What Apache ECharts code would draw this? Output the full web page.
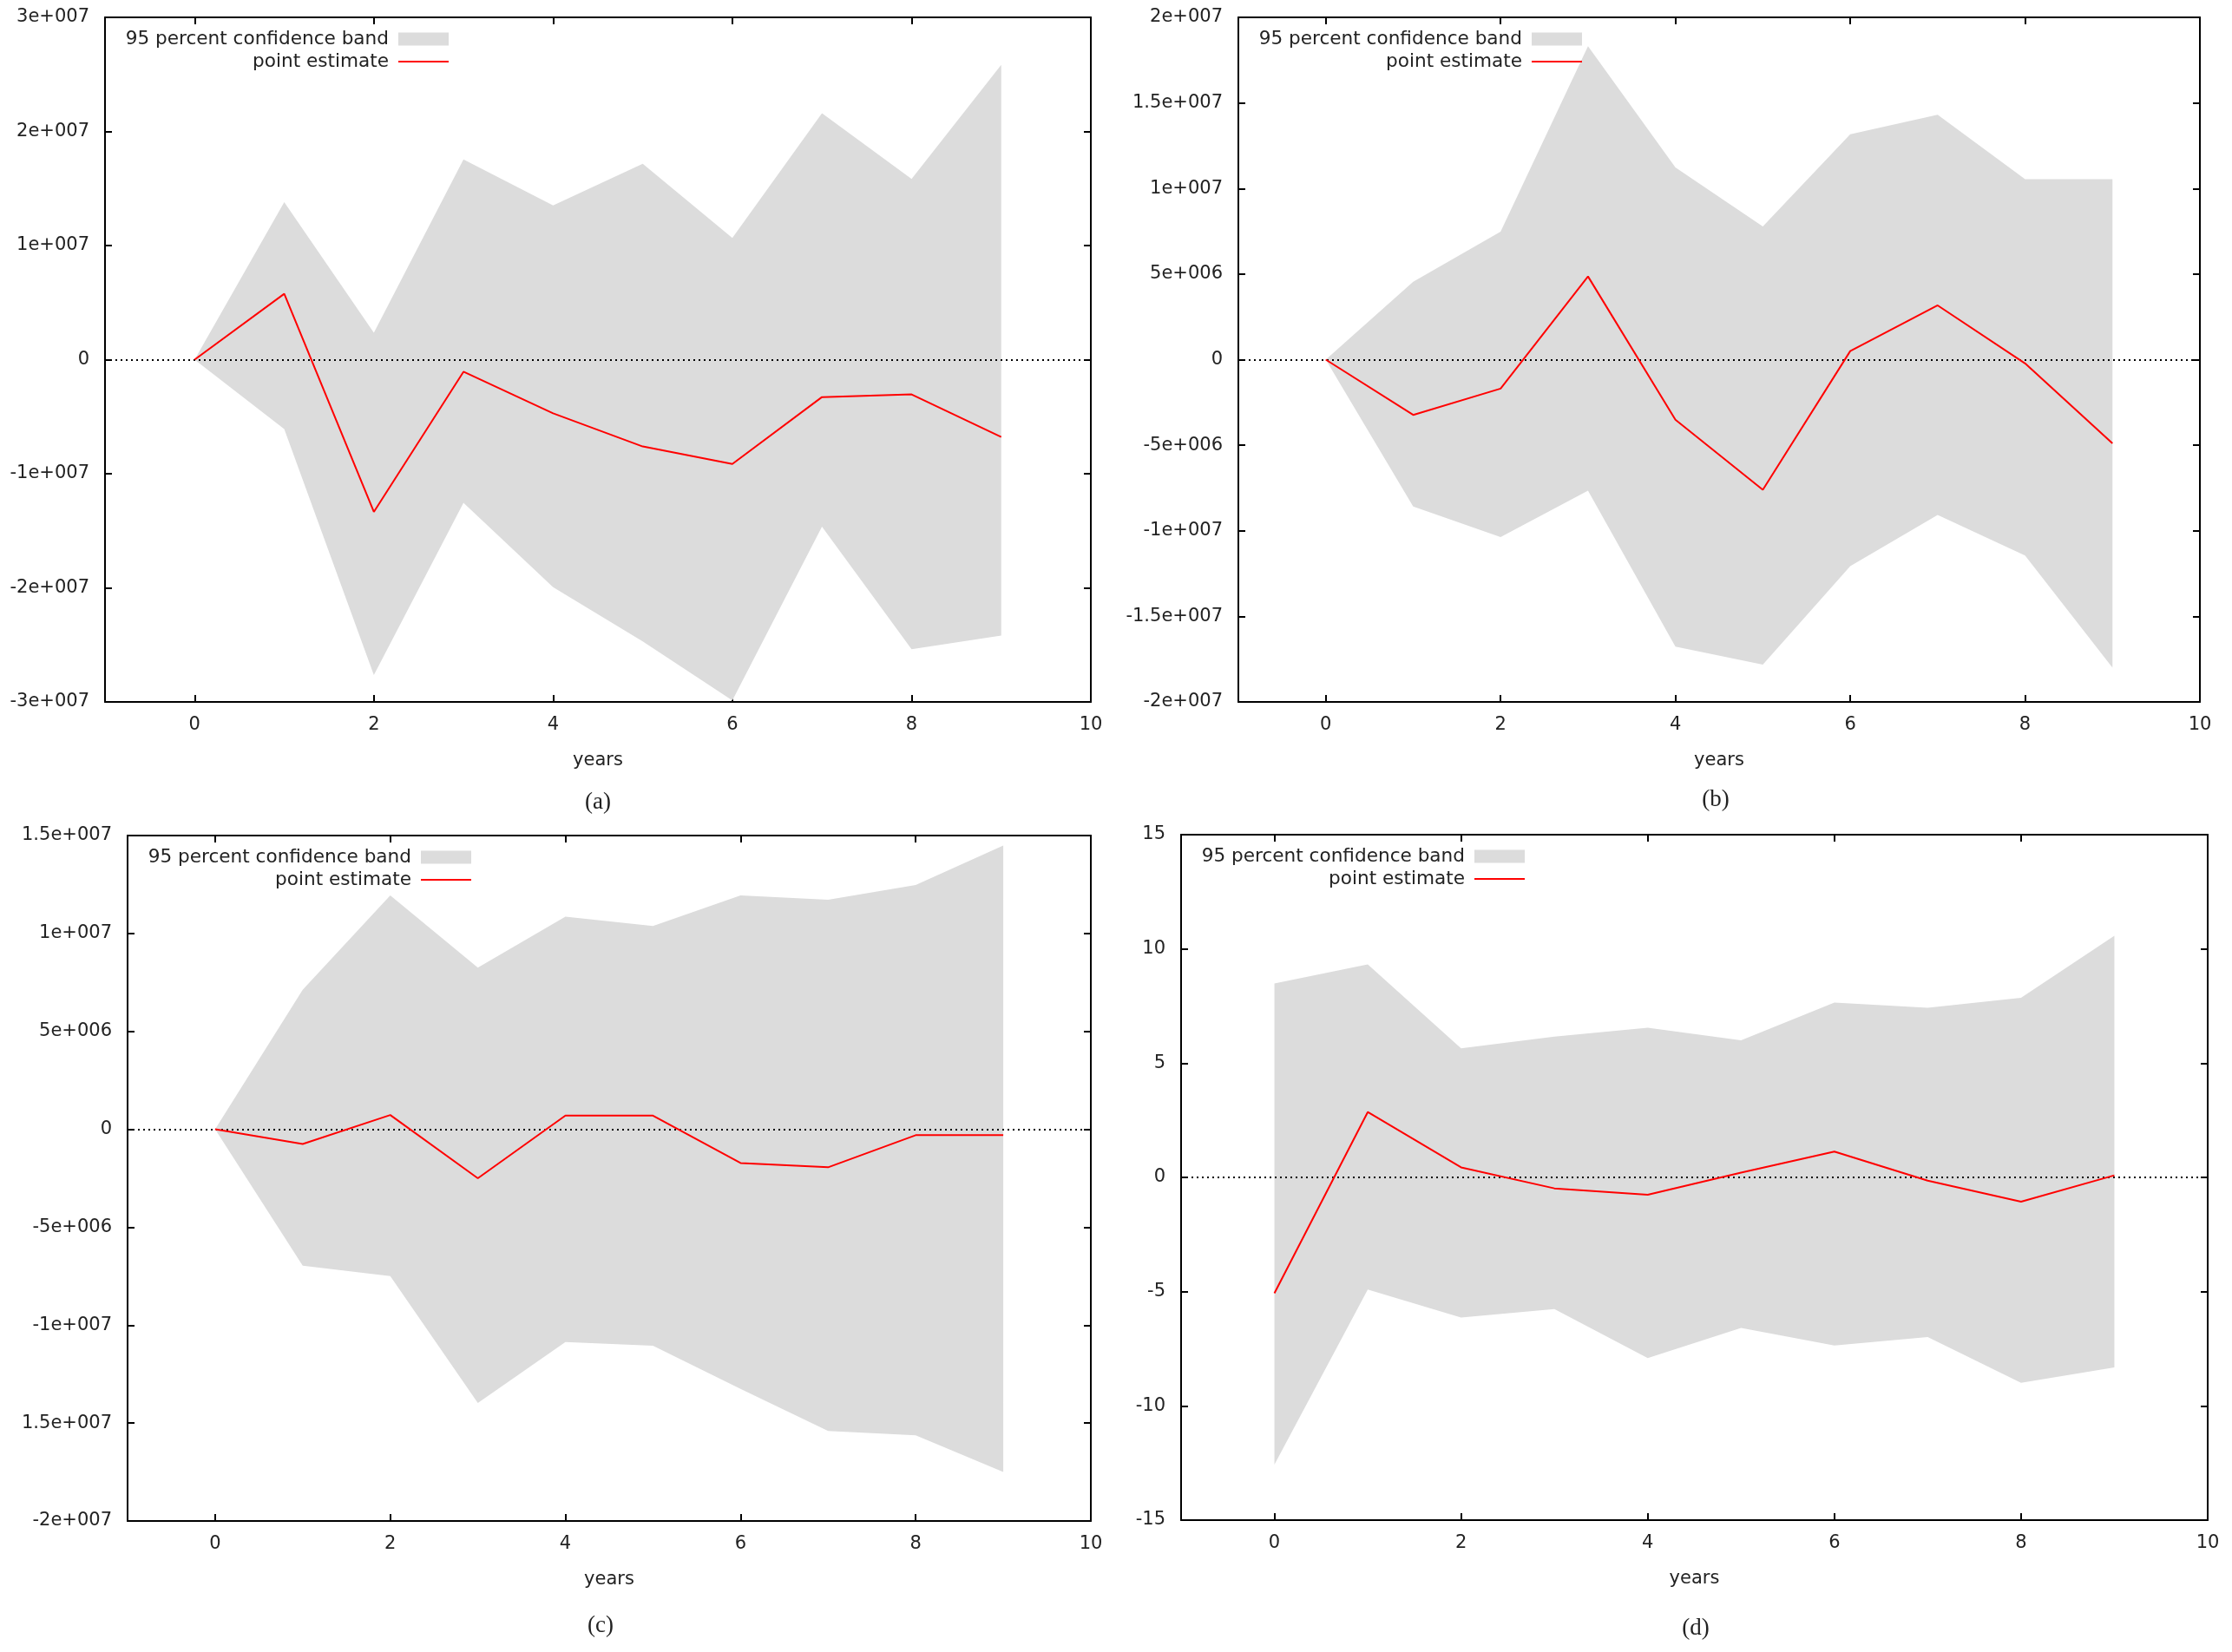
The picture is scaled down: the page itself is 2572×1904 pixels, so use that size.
<!DOCTYPE html>
<html><head><meta charset="utf-8">
<script src="https://cdn.jsdelivr.net/npm/echarts@6/dist/echarts.min.js"></script>
<style>html,body{margin:0;padding:0;background:#fff}#c{width:2572px;height:1904px}</style>
</head><body><div id="c"></div>
<script>
// ---------- data ----------
const years = [0, 1, 2, 3, 4, 5, 6, 7, 8, 9];
const xTickValues = [0, 2, 4, 6, 8, 10];
const xTickLabels = ['0', '2', '4', '6', '8', '10'];

const aUpper = [0, 13800000, 2350000, 17540000, 13520000, 17170000, 10660000, 21600000, 15830000, 25840000];
const aLower = [0, -6090000, -27640000, -12550000, -19940000, -24690000, -29860000, -14630000, -25380000, -24180000];
const aPoint = [0, 5770000, -13340000, -1060000, -4710000, -7610000, -9140000, -3280000, -3050000, -6780000];
const aYTickValues = [-30000000, -20000000, -10000000, 0, 10000000, 20000000, 30000000];
const aYTickLabels = ['-3e+007', '-2e+007', '-1e+007', '0', '1e+007', '2e+007', '3e+007'];

const bUpper = [0, 4550000, 7480000, 18310000, 11230000, 7780000, 13170000, 14310000, 10550000, 10550000];
const bLower = [0, -8580000, -10370000, -7660000, -16770000, -17820000, -12060000, -9080000, -11450000, -18000000];
const bPoint = [0, -3230000, -1690000, 4860000, -3510000, -7600000, 500000, 3170000, -220000, -4890000];
const bYTickValues = [-20000000, -15000000, -10000000, -5000000, 0, 5000000, 10000000, 15000000, 20000000];
const bYTickLabels = ['-2e+007', '-1.5e+007', '-1e+007', '-5e+006', '0', '5e+006', '1e+007', '1.5e+007', '2e+007'];

const cUpper = [0, 7120000, 11940000, 8250000, 10860000, 10380000, 11940000, 11720000, 12470000, 14490000];
const cLower = [0, -6960000, -7500000, -13980000, -10860000, -11050000, -13250000, -15400000, -15620000, -17500000];
const cPoint = [0, -750000, 730000, -2500000, 700000, 700000, -1720000, -1940000, -300000, -300000];
const cYTickValues = [-20000000, -15000000, -10000000, -5000000, 0, 5000000, 10000000, 15000000];
const cYTickLabels = ['-2e+007', '1.5e+007', '-1e+007', '-5e+006', '0', '5e+006', '1e+007', '1.5e+007'];

const dUpper = [8.49, 9.32, 5.65, 6.16, 6.55, 6.0, 7.65, 7.42, 7.86, 10.58];
const dLower = [-12.57, -4.91, -6.13, -5.76, -7.91, -6.59, -7.36, -6.99, -8.99, -8.32];
const dPoint = [-5.07, 2.86, 0.44, -0.48, -0.76, 0.21, 1.13, -0.14, -1.06, 0.09];
const dYTickValues = [-15, -10, -5, 0, 5, 10, 15];
const dYTickLabels = ['-15', '-10', '-5', '0', '5', '10', '15'];

const captions = ['(a)', '(b)', '(c)', '(d)'];
const bandName = '95 percent confidence band';
const pointName = 'point estimate';

// ---------- layout ----------
const panels = [
  {upper: aUpper, lower: aLower, point: aPoint, yv: aYTickValues, yl: aYTickLabels, min: -30000000, max: 30000000, interval: 10000000,
   left: 121, right: 1257, top: 20, bottom: 809, capX: 689, capY: 925},
  {upper: bUpper, lower: bLower, point: bPoint, yv: bYTickValues, yl: bYTickLabels, min: -20000000, max: 20000000, interval: 5000000,
   left: 1427, right: 2535, top: 20, bottom: 809, capX: 1977, capY: 922},
  {upper: cUpper, lower: cLower, point: cPoint, yv: cYTickValues, yl: cYTickLabels, min: -20000000, max: 15000000, interval: 5000000,
   left: 147, right: 1257, top: 963, bottom: 1753, capX: 692, capY: 1874},
  {upper: dUpper, lower: dLower, point: dPoint, yv: dYTickValues, yl: dYTickLabels, min: -15, max: 15, interval: 5,
   left: 1361, right: 2544, top: 962, bottom: 1752, capX: 1954, capY: 1877}
];

const W = 2572;
const FONT = 'DejaVu Sans';
const TXT = '#222';
const BAND = '#dcdcdc';
const RED = '#ff0000';

const grid = [], xAxis = [], yAxis = [], series = [], legend = [], graphic = [];
const axisLine = {onZero: false, lineStyle: {color: '#000', width: 2}};
const tick = {inside: true, length: 8, lineStyle: {color: '#000', width: 2}};

panels.forEach((p, i) => {
  grid.push({left: p.left, top: p.top, width: p.right - p.left, height: p.bottom - p.top, containLabel: false});
  xAxis.push({
    gridIndex: i, type: 'value', min: -1, max: 10, position: 'bottom',
    axisLine, axisTick: Object.assign({customValues: xTickValues}, tick),
    axisLabel: {customValues: xTickValues, margin: 16, fontFamily: FONT, fontSize: 21, color: TXT,
      formatter: v => xTickLabels[xTickValues.indexOf(v)]},
    splitLine: {show: false},
    name: 'years', nameLocation: 'middle', nameGap: 57,
    nameTextStyle: {fontFamily: FONT, fontSize: 21, color: TXT}
  });
  xAxis.push({
    gridIndex: i, type: 'value', min: -1, max: 10, position: 'top',
    axisLine, axisTick: Object.assign({customValues: xTickValues}, tick),
    axisLabel: {show: false}, splitLine: {show: false}
  });
  const fmt = v => {
    for (let k = 0; k < p.yv.length; k++) if (Math.abs(p.yv[k] - v) < p.interval * 1e-6) return p.yl[k];
    return '';
  };
  yAxis.push({
    gridIndex: i, type: 'value', min: p.min, max: p.max, interval: p.interval, position: 'left',
    axisLine, axisTick: tick,
    axisLabel: {margin: 18, fontFamily: FONT, fontSize: 21, color: TXT, formatter: fmt},
    splitLine: {show: false}
  });
  yAxis.push({
    gridIndex: i, type: 'value', min: p.min, max: p.max, interval: p.interval, position: 'right',
    axisLine, axisTick: tick, axisLabel: {show: false}, splitLine: {show: false}
  });
  // confidence band: one polygon through the axis scales
  series.push({
    type: 'custom', name: bandName, xAxisIndex: 2 * i, yAxisIndex: 2 * i,
    data: years.map((x, k) => [x, p.lower[k], p.upper[k]]),
    encode: {x: 0, y: [1, 2]},
    itemStyle: {color: BAND}, silent: true, z: 1,
    renderItem: (params, api) => {
      if (params.dataIndex !== 0) return null;
      const pts = [];
      for (let k = 0; k < years.length; k++) pts.push(api.coord([years[k], p.upper[k]]));
      for (let k = years.length - 1; k >= 0; k--) pts.push(api.coord([years[k], p.lower[k]]));
      return {type: 'polygon', shape: {points: pts}, style: {fill: BAND, stroke: null}, silent: true};
    }
  });
  series.push({
    type: 'line', name: pointName, xAxisIndex: 2 * i, yAxisIndex: 2 * i,
    data: years.map((x, k) => [x, p.point[k]]),
    symbol: 'none', showSymbol: false, silent: true, z: 3,
    lineStyle: {color: RED, width: 2}, itemStyle: {color: RED},
    markLine: {
      silent: true, symbol: 'none', label: {show: false}, z: 2,
      lineStyle: {color: '#000', width: 2, type: [2, 4]},
      data: [{yAxis: 0}]
    }
  });
  const legText = {fontFamily: FONT, fontSize: 21.6, lineHeight: 22, color: TXT, padding: [0, 6, 0, 0]};
  legend.push({
    data: [{name: bandName, icon: 'rect', itemStyle: {color: BAND}}],
    orient: 'vertical', align: 'right', right: W - (p.left + 396), top: p.top + 25 - 11,
    itemWidth: 58, itemHeight: 15, padding: 0, selectedMode: false, textStyle: legText
  });
  legend.push({
    data: [{name: pointName, icon: 'rect', itemStyle: {color: RED}}],
    orient: 'vertical', align: 'right', right: W - (p.left + 396), top: p.top + 51 - 11,
    itemWidth: 58, itemHeight: 2, padding: 0, selectedMode: false, textStyle: legText
  });
  graphic.push({
    type: 'text', x: p.capX, y: p.capY,
    style: {text: captions[i], textAlign: 'center', textVerticalAlign: 'middle',
      font: '27px "Liberation Serif"', fill: TXT}
  });
});

const chart = echarts.init(document.getElementById('c'), null, {renderer: 'canvas'});
chart.setOption({
  backgroundColor: '#ffffff',
  animation: false,
  grid, xAxis, yAxis, series, legend, graphic
});
</script>
</body></html>
